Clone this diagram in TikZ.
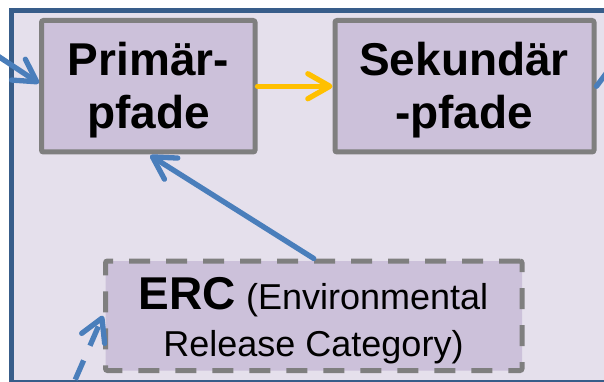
\documentclass[tikz,border=0pt]{standalone}
\usepackage{fontspec}
\setmainfont{Liberation Sans}
\usetikzlibrary{arrows.meta,calc}
\definecolor{framec}{HTML}{385D8A}
\definecolor{innerc}{HTML}{E5E0EC}
\definecolor{boxc}{HTML}{CCC1DA}
\definecolor{borderc}{HTML}{7F7F7F}
\definecolor{arrowblue}{HTML}{4A7EBB}
\definecolor{arrowyellow}{HTML}{FFC000}
\begin{document}
\begin{tikzpicture}[x=1pt,y=-1pt,
  pathbox/.style={draw=borderc, fill=boxc, line width=5pt, rounded corners=2pt, inner sep=0pt},
  dashbox/.style={pathbox, dash pattern=on 21pt off 16pt},
  boldtext/.style={font=\fontsize{46}{53}\selectfont\bfseries, align=center, inner sep=0pt},
  erctext/.style={font=\fontsize{36}{47}\selectfont, align=center, inner sep=0pt},
  barb/.style={-{Straight Barb[length=22pt,width=25pt,round]}},
  bluearrow/.style={barb, draw=arrowblue, line width=5.3pt, line cap=round},
  bluedash/.style={barb, draw=arrowblue, line width=5.3pt, line cap=butt, dash pattern=on 21pt off 16pt},
  yellowarrow/.style={barb, draw=arrowyellow, line width=5.3pt, line cap=round},
  bluelink/.style={draw=arrowblue, line width=5.3pt, line cap=round}
]
\useasboundingbox (0,0) rectangle (604,382);
\fill[white] (0,0) rectangle (604,382);
\draw[framec, line width=5.5pt, fill=innerc] (11.7,10.6) rectangle (640,382.8);

\node[pathbox, minimum width=213.5pt, minimum height=131.5pt] (prim) at (148.25,86.25) {};
\node[boldtext] (primtxt) at (148.5,89.8) {Primär-\\pfade};

\node[pathbox, minimum width=259pt, minimum height=131.5pt] (sek) at (464.5,86.25) {};
\node[boldtext] (sektxt) at (464,89.8) {Sekundär\\-pfade};

\node[dashbox, minimum width=416.5pt, minimum height=109.5pt] (erc) at (313.75,315.75) {};
\node[erctext] (erctxt) at (313.5,320.8) {{\fontsize{46}{53}\selectfont\bfseries ERC} (Environmental\\Release Category)};

\coordinate (inL) at (-10,50.8);
\coordinate (outR) at (614,63);
\coordinate (inB) at (60.5,413.6);

\draw[bluearrow] (inL) -- ($(prim.west)+(0,-3)$);
\draw[yellowarrow] (prim.east) -- (sek.west);
\draw[bluelink] (sek.east) -- (outR);
\draw[bluearrow] (erc.north) -- ($(prim.south)+(2,1)$);
\draw[bluedash] (inB) -- (erc.west);
\end{tikzpicture}
\end{document}
